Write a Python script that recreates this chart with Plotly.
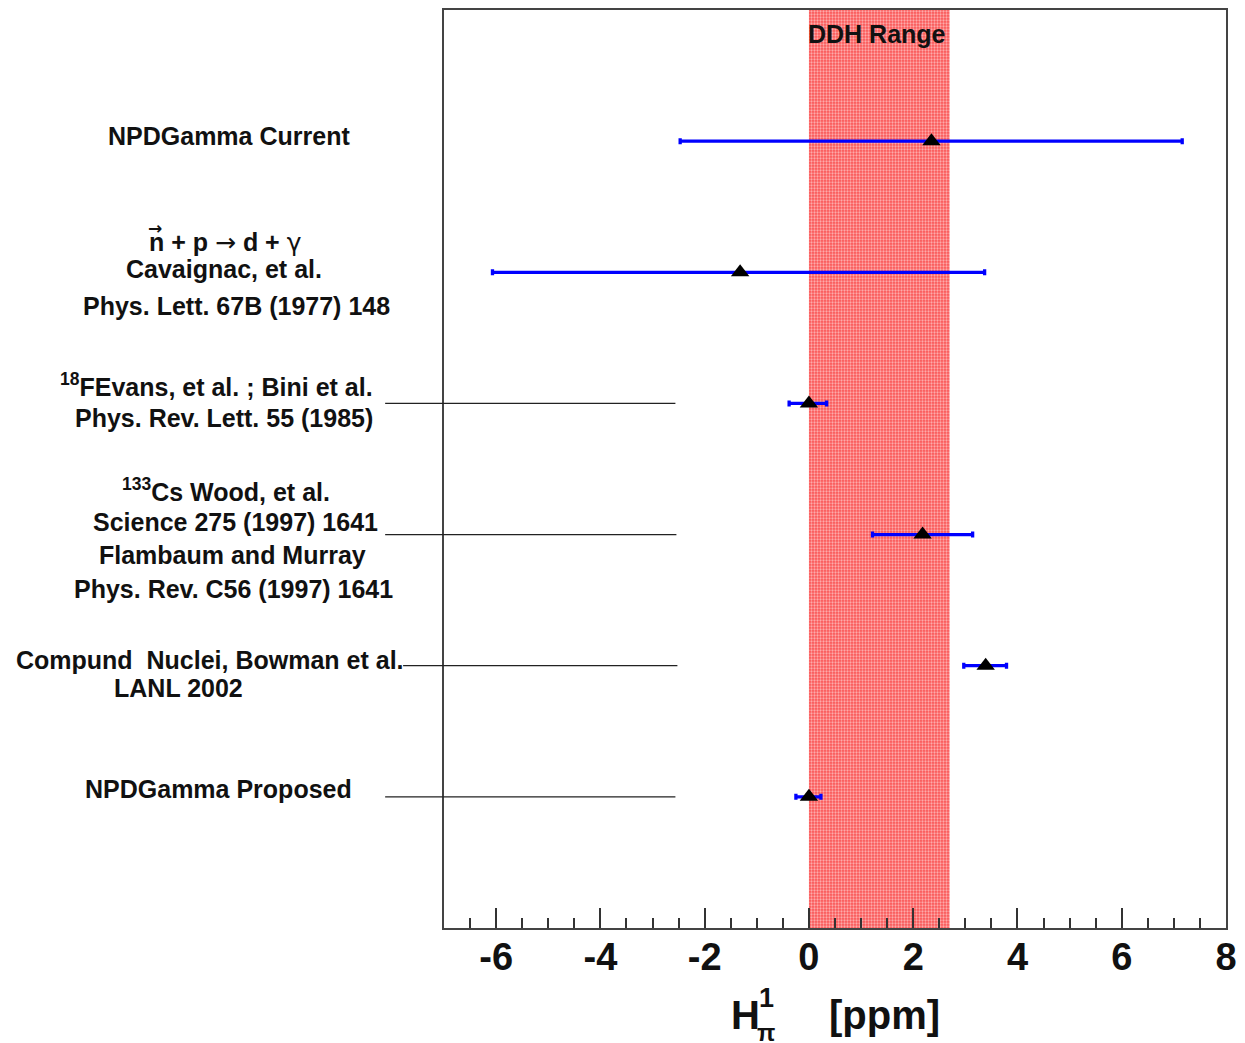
import plotly.graph_objects as go

# ---- data ----
rows = [6, 5, 4, 3, 2, 1]
experiments = ["NPDGamma Current", "Cavaignac", "18F", "133Cs", "Compound Nuclei", "NPDGamma Proposed"]
h_pi = [2.35, -1.32, 0.0, 2.18, 3.39, 0.0]
err_low = [-2.47, -6.07, -0.38, 1.22, 2.97, -0.25]
err_high = [7.16, 3.37, 0.34, 3.14, 3.79, 0.23]
ddh_low, ddh_high = 0.0, 2.7
x_range = [-7, 8]
y_range = [0, 7]
x_ticks = [-6, -4, -2, 0, 2, 4, 6, 8]
x_ticktext = [str(v) for v in x_ticks]
# rows that carry a guide line from the label to the plot
guide_rows = [4, 3, 2, 1]

plus = [h - c for h, c in zip(err_high, h_pi)]
minus = [c - l for c, l in zip(h_pi, err_low)]

W, H = 1245, 1043
ML, MR, MT, MB = 444, 17, 8, 115
PW, PH = W - ML - MR, H - MT - MB

def px(xp):
    return (xp - ML) / PW

def py(yp):
    return (H - MB - yp) / PH

FONT = "Liberation Sans"
NORMAL = "<span style='font-weight:normal;font-family:DejaVu Sans'>"

fig = go.Figure()

# DDH band
fig.add_trace(go.Scatter(
    x=[ddh_low, ddh_high, ddh_high, ddh_low, ddh_low],
    y=[y_range[0], y_range[0], y_range[1], y_range[1], y_range[0]],
    fill="toself", mode="none",
    fillpattern=dict(shape=".", fgcolor="white", bgcolor="rgb(250,85,85)", size=3, solidity=0.45),
    hoverinfo="skip", showlegend=False,
))

# measurements
fig.add_trace(go.Scatter(
    x=h_pi, y=rows, mode="markers",
    marker=dict(symbol="triangle-up", size=16, color="black"),
    error_x=dict(type="data", symmetric=False, array=plus, arrayminus=minus,
                 color="#0000ff", thickness=3.3, width=3),
    text=experiments, showlegend=False,
))

# guide lines
line_x0 = {4: px(385), 3: px(385), 2: px(403), 1: px(385)}
line_x1 = {4: px(676), 3: px(677), 2: px(678), 1: px(676)}
for r in guide_rows:
    fig.add_shape(type="line", xref="paper", yref="y", x0=line_x0[r], x1=line_x1[r],
                  y0=r, y1=r, line=dict(color="#222", width=1.3))

labels = [
    ("NPDGamma Current", 228, 134),
    ("n + p " + NORMAL + "\u2192</span> d + " + NORMAL + "\u03b3</span>", 225, 241),
    ("Cavaignac, et al.", 223, 268),
    ("Phys. Lett. 67B (1977) 148", 236, 305),
    ("<sup>18</sup>FEvans, et al. ; Bini et al.", 216, 384),
    ("Phys. Rev. Lett. 55 (1985)", 223, 417),
    ("<sup>133</sup>Cs Wood, et al.", 225, 489),
    ("Science 275 (1997) 1641", 235, 521),
    ("Flambaum and Murray", 232, 554),
    ("Phys. Rev. C56 (1997) 1641", 233, 588),
    ("Compund \u00a0Nuclei, Bowman et al.", 209, 659),
    ("LANL 2002", 178, 687),
    ("NPDGamma Proposed", 218, 789),
]
for t, x, y in labels:
    fig.add_annotation(text=t, xref="paper", yref="paper", x=px(x), y=py(y),
                       xanchor="center", yanchor="middle", showarrow=False,
                       font=dict(family=FONT, size=25, color="#111", weight="bold"))

# vector arrow above the n
fig.add_annotation(text="\u2192", xref="paper", yref="paper", x=px(154), y=py(226),
                   xanchor="center", yanchor="middle", showarrow=False,
                   font=dict(family="DejaVu Sans", size=17, color="#111", weight="bold"))

fig.add_annotation(text="DDH Range", xref="paper", yref="paper", x=px(878), y=py(32),
                   xanchor="center", yanchor="middle", showarrow=False,
                   font=dict(family=FONT, size=25, color="#111", weight="bold"))

# axis title pieces
fig.add_annotation(text="H", xref="paper", yref="paper", x=px(746), y=py(1015),
                   xanchor="center", yanchor="middle", showarrow=False,
                   font=dict(family=FONT, size=40, color="#111", weight="bold"))
fig.add_annotation(text="1", xref="paper", yref="paper", x=px(767), y=py(998),
                   xanchor="center", yanchor="middle", showarrow=False,
                   font=dict(family=FONT, size=27, color="#111", weight="bold"))
fig.add_annotation(text="\u03c0", xref="paper", yref="paper", x=px(767), y=py(1033),
                   xanchor="center", yanchor="middle", showarrow=False,
                   font=dict(family=FONT, size=24, color="#111", weight="bold"))
fig.add_annotation(text="[ppm]", xref="paper", yref="paper", x=px(886), y=py(1015),
                   xanchor="center", yanchor="middle", showarrow=False,
                   font=dict(family=FONT, size=40, color="#111", weight="bold"))

fig.update_layout(
    width=W, height=H,
    margin=dict(l=ML, r=MR, t=MT, b=MB),
    paper_bgcolor="white", plot_bgcolor="white",
    showlegend=False,
    xaxis=dict(range=x_range, tickvals=x_ticks, ticktext=x_ticktext, ticks="inside", ticklen=20,
               tickwidth=1.5, tickcolor="#333", showgrid=False, zeroline=False, showline=True,
               mirror=True, linecolor="#444", linewidth=2, ticklabelstandoff=-6,
               tickfont=dict(family=FONT, size=38, color="#111", weight="bold"),
               minor=dict(dtick=0.5, tick0=-7, ticks="inside", ticklen=10, tickwidth=1.5, tickcolor="#333"),
               fixedrange=True),
    yaxis=dict(range=y_range, showticklabels=False, ticks="", showgrid=False, zeroline=False,
               showline=True, mirror=True, linecolor="#444", linewidth=2, fixedrange=True),
)

fig.write_html("out.html", config={"displayModeBar": False},
               post_script="document.body.style.margin='0';document.body.style.overflow='hidden';")
